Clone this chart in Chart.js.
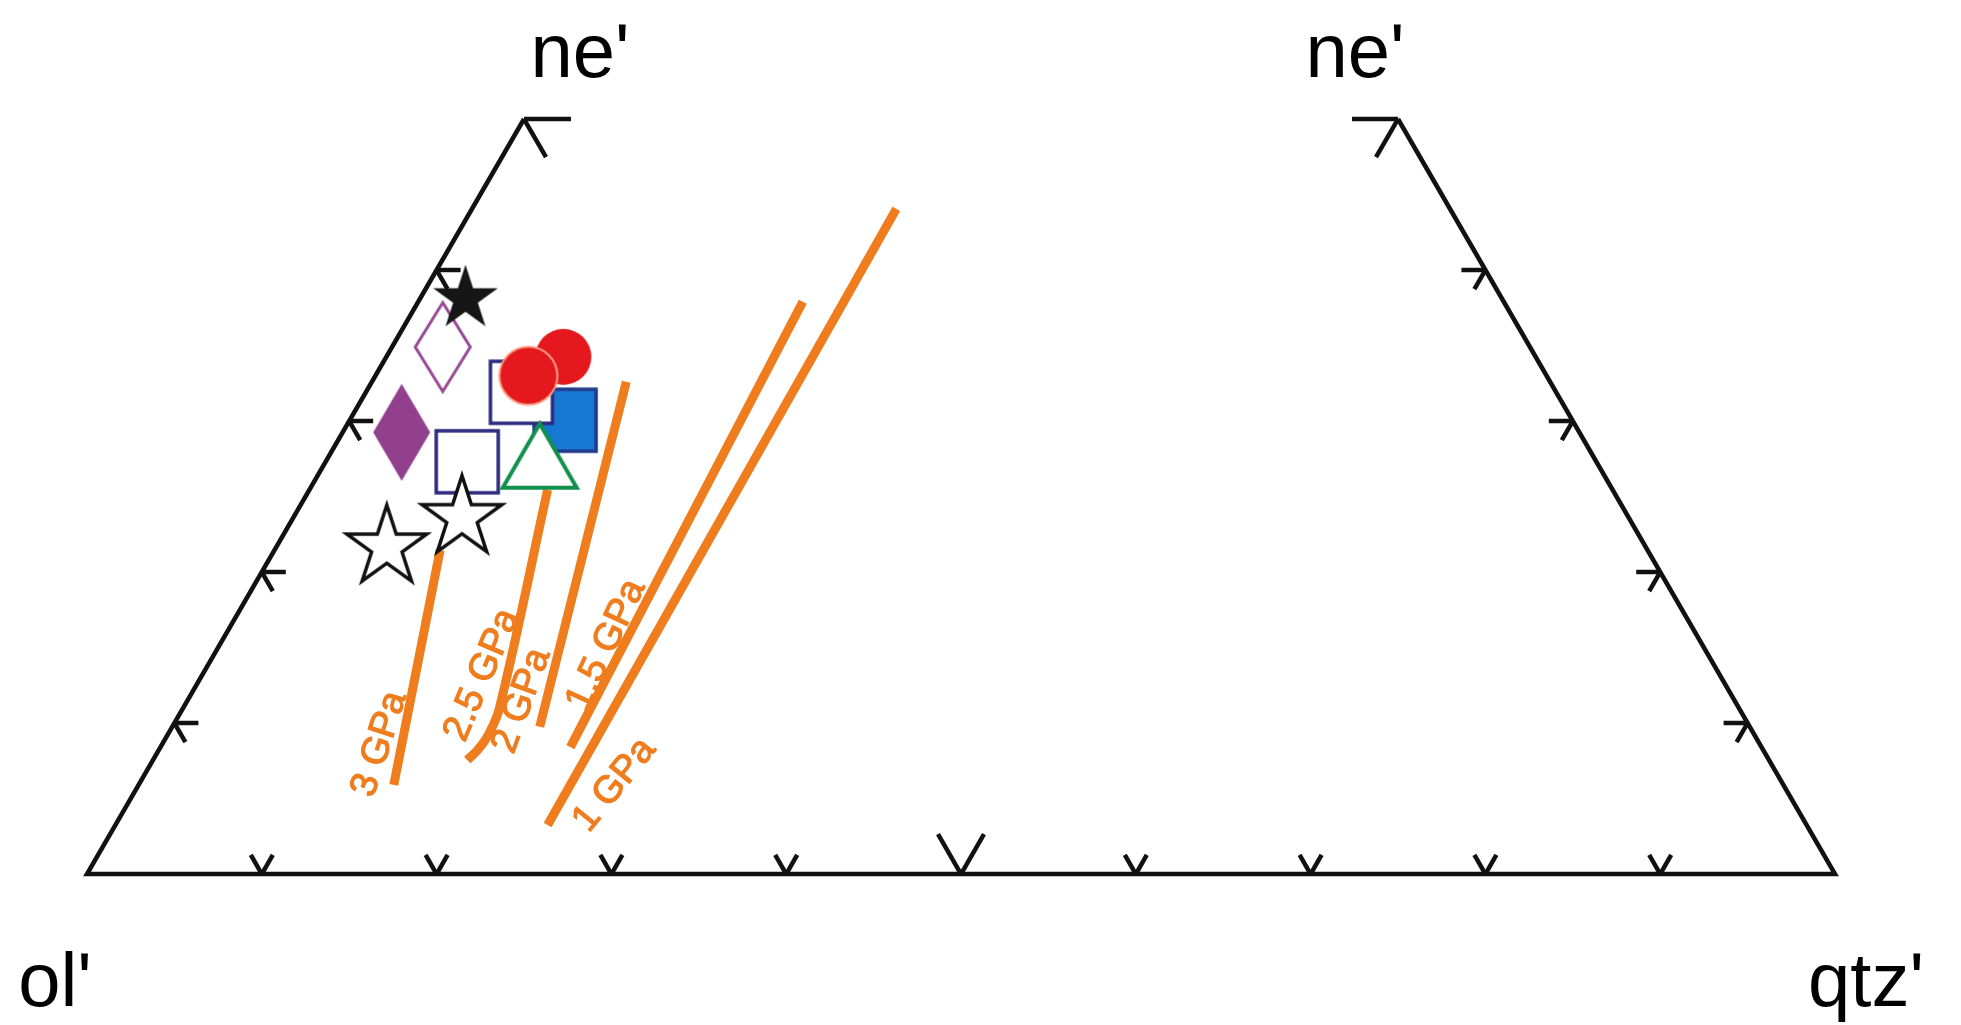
<!DOCTYPE html>
<html>
<head>
<meta charset="utf-8">
<script src="https://cdn.jsdelivr.net/npm/chart.js@4.4.0/dist/chart.umd.min.js"></script>
<style>
    html, body { margin: 0; padding: 0; background: #fff; }
</style>
</head>
<body>
<canvas id="chartTernario" width="1961" height="1025"></canvas>
<script>
// plot units: x runs 0-200 along the ol'-qtz' base, y is ne' (0 at base, 100 at apex)
const cornerNames = ["ne'", "ne'", "ol'", "qtz'"];
const frameX = [50, 0, 200, 150];
const frameY = [100, 0, 0, 100];
const edgeFractions = [0.2, 0.4, 0.6, 0.8];
const baseTicks = [20, 40, 60, 80, 120, 140, 160, 180];

// samples
const blackStarX = [43.3], blackStarY = [76.2];
const openDiamondX = [40.7], openDiamondY = [69.8];
const fullDiamondX = [36.0], fullDiamondY = [58.5];
const openSquareX = [49.7, 43.5], openSquareY = [63.8, 54.6];
const redCircleBackX = [54.5], redCircleBackY = [68.5];
const redCircleFrontX = [50.5], redCircleFrontY = [66.0];
const blueSquareX = [54.7], blueSquareY = [60.1];
const triangleX = [51.8], triangleY = [55.4];
const openStarX = [42.9, 34.3], openStarY = [47.2, 43.3];

// isobars
const isobarNames = ['3 GPa', '2.5 GPa', '2 GPa', '1.5 GPa', '1 GPa'];
const isobar3X = [35.1, 40.4], isobar3Y = [11.8, 42.9];
const isobar25X = [43.5, 44.6, 45.9, 47.2, 52.7], isobar25Y = [15.1, 16.3, 18.4, 22.0, 50.9];
const isobar2X = [51.8, 61.7], isobar2Y = [19.5, 65.2];
const isobar15X = [55.3, 81.9], isobar15Y = [16.8, 75.8];
const isobar1X = [52.7, 92.6], isobar1Y = [6.5, 88.1];

const orange = '#ef7d1e';

function toPoints(xs, ys) {
    return xs.map((x, i) => ({x: x, y: ys[i]}));
}

function makeCanvas(w, h, draw) {
    const c = document.createElement('canvas');
    c.width = w;
    c.height = h;
    draw(c.getContext('2d'), w, h);
    return c;
}

function starPath(ctx, cx, cy, R) {
    const r = R * 0.382;
    ctx.beginPath();
    for (let i = 0; i < 10; i++) {
        const rad = i % 2 === 0 ? R : r;
        const a = -Math.PI / 2 + i * Math.PI / 5;
        const px = cx + rad * Math.cos(a);
        const py = cy + rad * Math.sin(a);
        if (i === 0) ctx.moveTo(px, py); else ctx.lineTo(px, py);
    }
    ctx.closePath();
}

const imgBlackStar = makeCanvas(76, 76, (ctx, w, h) => {
    starPath(ctx, w / 2, h / 2, 34);
    ctx.fillStyle = '#161616';
    ctx.fill();
});
const imgOpenStar = makeCanvas(96, 96, (ctx, w, h) => {
    starPath(ctx, w / 2, h / 2, 42);
    ctx.fillStyle = '#fff';
    ctx.fill();
    ctx.lineWidth = 3.5;
    ctx.lineJoin = 'miter';
    ctx.strokeStyle = '#111';
    ctx.stroke();
});
function diamond(ctx, w, h, hw, hh) {
    ctx.beginPath();
    ctx.moveTo(w / 2, h / 2 - hh);
    ctx.lineTo(w / 2 + hw, h / 2);
    ctx.lineTo(w / 2, h / 2 + hh);
    ctx.lineTo(w / 2 - hw, h / 2);
    ctx.closePath();
}
const imgOpenDiamond = makeCanvas(66, 100, (ctx, w, h) => {
    diamond(ctx, w, h, 27.5, 44.5);
    ctx.fillStyle = '#fff';
    ctx.fill();
    ctx.lineWidth = 3;
    ctx.strokeStyle = '#9a4a96';
    ctx.stroke();
});
const imgFullDiamond = makeCanvas(66, 104, (ctx, w, h) => {
    diamond(ctx, w, h, 28.5, 48.5);
    ctx.fillStyle = '#923f8e';
    ctx.fill();
});
const imgOpenSquare = makeCanvas(72, 72, (ctx, w, h) => {
    ctx.fillStyle = '#fff';
    ctx.fillRect(w / 2 - 31, h / 2 - 31, 62, 62);
    ctx.lineWidth = 3.5;
    ctx.strokeStyle = '#2d2a80';
    ctx.strokeRect(w / 2 - 31, h / 2 - 31, 62, 62);
});
const imgBlueSquare = makeCanvas(72, 72, (ctx, w, h) => {
    ctx.fillStyle = '#1778d2';
    ctx.fillRect(w / 2 - 31, h / 2 - 31, 62, 62);
    ctx.lineWidth = 3.5;
    ctx.strokeStyle = '#223a8c';
    ctx.strokeRect(w / 2 - 31, h / 2 - 31, 62, 62);
});
const imgRedBack = makeCanvas(64, 64, (ctx, w, h) => {
    ctx.beginPath();
    ctx.arc(w / 2, h / 2, 28, 0, Math.PI * 2);
    ctx.fillStyle = '#e5181d';
    ctx.fill();
});
const imgRedFront = makeCanvas(66, 66, (ctx, w, h) => {
    ctx.beginPath();
    ctx.arc(w / 2, h / 2, 29, 0, Math.PI * 2);
    ctx.fillStyle = '#e5181d';
    ctx.fill();
    ctx.lineWidth = 2;
    ctx.strokeStyle = '#f6a184';
    ctx.stroke();
});
const imgTriangle = makeCanvas(84, 76, (ctx, w, h) => {
    ctx.beginPath();
    ctx.moveTo(w / 2, h / 2 - 32);
    ctx.lineTo(w / 2 + 37, h / 2 + 32);
    ctx.lineTo(w / 2 - 37, h / 2 + 32);
    ctx.closePath();
    ctx.fillStyle = '#fff';
    ctx.fill();
    ctx.lineWidth = 4;
    ctx.lineJoin = 'miter';
    ctx.strokeStyle = '#12904b';
    ctx.stroke();
});

function markerSet(xs, ys, img, order) {
    return {
        data: toPoints(xs, ys),
        pointStyle: img,
        pointRadius: 20,
        showLine: false,
        clip: false,
        order: order
    };
}

function isobarSet(xs, ys, tension) {
    return {
        data: toPoints(xs, ys),
        showLine: true,
        borderColor: orange,
        borderWidth: 9,
        borderCapStyle: 'butt',
        borderJoinStyle: 'round',
        tension: tension || 0,
        pointRadius: 0,
        clip: false,
        order: 50
    };
}

// stubs of the ternary grid drawn on the frame
const ternaryTicks = {
    id: 'ternaryTicks',
    afterDatasetsDraw(chart) {
        const ctx = chart.ctx;
        const sx = chart.scales.x, sy = chart.scales.y;
        const px = v => sx.getPixelForValue(v);
        const py = v => sy.getPixelForValue(v);
        const c60 = 0.5, s60 = Math.sqrt(3) / 2;
        ctx.save();
        ctx.strokeStyle = '#111';
        ctx.lineWidth = 4.5;
        ctx.lineCap = 'butt';
        function stub(x0, y0, dx, dy, len) {
            ctx.beginPath();
            ctx.moveTo(x0, y0);
            ctx.lineTo(x0 + dx * len, y0 + dy * len);
            ctx.stroke();
        }
        edgeFractions.forEach(f => {
            // left edge
            const lx = px(50 * f), ly = py(100 * f);
            stub(lx, ly, 1, 0, 24);
            stub(lx, ly, c60, s60, 22);
            // right edge
            const rx = px(200 - 50 * f), ry = py(100 * f);
            stub(rx, ry, -1, 0, 24);
            stub(rx, ry, -c60, s60, 22);
        });
        baseTicks.forEach(t => {
            const bx = px(t), by = py(0);
            stub(bx, by, -c60, -s60, 22);
            stub(bx, by, c60, -s60, 22);
        });
        // vertices of the two sub-triangles
        stub(px(100), py(0), -c60, -s60, 46);
        stub(px(100), py(0), c60, -s60, 46);
        stub(px(50), py(100), 1, 0, 47);
        stub(px(50), py(100), c60, s60, 44);
        stub(px(150), py(100), -1, 0, 46);
        stub(px(150), py(100), -c60, s60, 44);

        // corner labels
        ctx.fillStyle = '#000';
        ctx.font = '76px "Liberation Sans", Arial, sans-serif';
        ctx.textAlign = 'center';
        ctx.textBaseline = 'alphabetic';
        ctx.fillText(cornerNames[0], px(50) + 56, py(100) - 42);
        ctx.fillText(cornerNames[1], px(150) - 43, py(100) - 42);
        ctx.fillText(cornerNames[2], px(0) - 32, py(0) + 132);
        ctx.fillText(cornerNames[3], px(200) + 31, py(0) + 132);
        ctx.restore();
    }
};

// isobar labels, placed off the lower end of each line
const labelOffsets = [[-14, -41, -72], [15, -85, -67], [-18, -26, -70], [36, -102, -65], [67, -40, -51]];
const isobarLabels = {
    id: 'isobarLabels',
    afterDatasetsDraw(chart) {
        const ctx = chart.ctx;
        const sx = chart.scales.x, sy = chart.scales.y;
        const starts = [[isobar3X[0], isobar3Y[0]], [isobar25X[0], isobar25Y[0]], [isobar2X[0], isobar2Y[0]],
                        [isobar15X[0], isobar15Y[0]], [isobar1X[0], isobar1Y[0]]];
        ctx.save();
        ctx.fillStyle = orange;
        ctx.strokeStyle = orange;
        ctx.lineWidth = 1.2;
        ctx.font = '38px "Liberation Sans", Arial, sans-serif';
        ctx.textAlign = 'center';
        ctx.textBaseline = 'middle';
        isobarNames.forEach((name, i) => {
            const o = labelOffsets[i];
            const x = sx.getPixelForValue(starts[i][0]) + o[0];
            const y = sy.getPixelForValue(starts[i][1]) + o[1];
            ctx.save();
            ctx.translate(x, y);
            ctx.rotate(o[2] * Math.PI / 180);
            ctx.fillText(name, 0, 0);
            ctx.strokeText(name, 0, 0);
            ctx.restore();
        });
        ctx.restore();
    }
};

function renderChart() {
    const ctx = document.querySelector('#chartTernario').getContext('2d');
    new Chart(ctx, {
        type: 'scatter',
        data: {
            datasets: [
                {
                    data: toPoints(frameX, frameY),
                    showLine: true,
                    borderColor: '#111',
                    borderWidth: 4.5,
                    borderJoinStyle: 'miter',
                    pointRadius: 0,
                    clip: false,
                    order: 60
                },
                isobarSet(isobar3X, isobar3Y),
                isobarSet(isobar25X, isobar25Y, 0.4),
                isobarSet(isobar2X, isobar2Y),
                isobarSet(isobar15X, isobar15Y),
                isobarSet(isobar1X, isobar1Y),
                markerSet(fullDiamondX, fullDiamondY, imgFullDiamond, 40),
                markerSet(openDiamondX, openDiamondY, imgOpenDiamond, 39),
                markerSet(openSquareX.slice(1), openSquareY.slice(1), imgOpenSquare, 38),
                markerSet(blueSquareX, blueSquareY, imgBlueSquare, 37),
                markerSet(openSquareX.slice(0, 1), openSquareY.slice(0, 1), imgOpenSquare, 36),
                markerSet(triangleX, triangleY, imgTriangle, 35),
                markerSet(redCircleBackX, redCircleBackY, imgRedBack, 34),
                markerSet(redCircleFrontX, redCircleFrontY, imgRedFront, 33),
                markerSet(blackStarX, blackStarY, imgBlackStar, 32),
                markerSet(openStarX, openStarY, imgOpenStar, 31)
            ]
        },
        options: {
            responsive: false,
            animation: false,
            events: [],
            layout: { padding: { left: 87, right: 126, top: 119, bottom: 151 } },
            plugins: { legend: { display: false }, tooltip: { enabled: false } },
            scales: {
                x: { type: 'linear', min: 0, max: 200, display: false },
                y: { type: 'linear', min: 0, max: 100, display: false }
            }
        },
        plugins: [ternaryTicks, isobarLabels]
    });
}
renderChart();
</script>
</body>
</html>
